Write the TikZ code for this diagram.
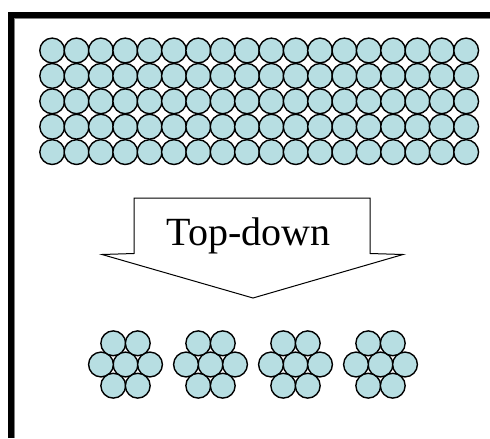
\documentclass[tikz,border=0pt]{standalone}
\usepackage{fontspec}
\setmainfont{Liberation Serif}
\usetikzlibrary{positioning}
\usetikzlibrary{calc}
\definecolor{ballblue}{RGB}{183,222,226}
\tikzstyle{ball} = [circle, draw=black, fill=ballblue, line width=0.7pt, minimum size=12.4pt, inner sep=0pt]
\tikzstyle{frame} = [line width=3pt, line join=miter]
\tikzstyle{bigarrow} = [draw=black, fill=white, line width=0.5pt, line join=miter]

\begin{document}
\begin{tikzpicture}[x=0.5pt, y=-0.5pt]
    \useasboundingbox (0,0) rectangle (490,438);

    % --- frame ---
    \draw[frame] (11,438) -- (11,15) -- (490,15);
    \draw[gray, line width=0.5pt] (14.5,438) -- (14.5,18.5) -- (490,18.5);

    % --- bulk: 5 rows of 18 balls ---
    \foreach \r in {0,...,4} {
        \foreach \c in {0,...,17} {
            \node[ball] (bulk-\r-\c) at ({52.2+24.35*\c}, {50.5+25.4*\r}) {};
        }
    }

    % --- Top-down arrow ---
    \draw[bigarrow] (134,198) -- (370,198) -- (370,253.5) -- (403,254.5)
        -- (253,298) -- (102,254.5) -- (134,253.5) -- cycle;
    \node[anchor=base, inner sep=0pt, font=\fontsize{20}{24}\selectfont] (topdown) at (248.5,245) {Top-down};

    % --- small clusters: one ball with six around it ---
    \foreach \k in {0,...,3} {
        % center ball
        \node[ball] (clus-\k) at ({125.5+85*\k}, 364.5) {};
        % ring around the center ball
        \node[ball] (clus-\k-w) at ($(clus-\k) + (-24.5,0)$) {};
        \node[ball] (clus-\k-e) at ($(clus-\k) + (24.5,0)$) {};
        \node[ball] (clus-\k-nw) at ($(clus-\k) + (-12.25,-21.2)$) {};
        \node[ball] (clus-\k-ne) at ($(clus-\k) + (12.25,-21.2)$) {};
        \node[ball] (clus-\k-sw) at ($(clus-\k) + (-12.25,21.2)$) {};
        \node[ball] (clus-\k-se) at ($(clus-\k) + (12.25,21.2)$) {};
    }

\end{tikzpicture}
\end{document}
